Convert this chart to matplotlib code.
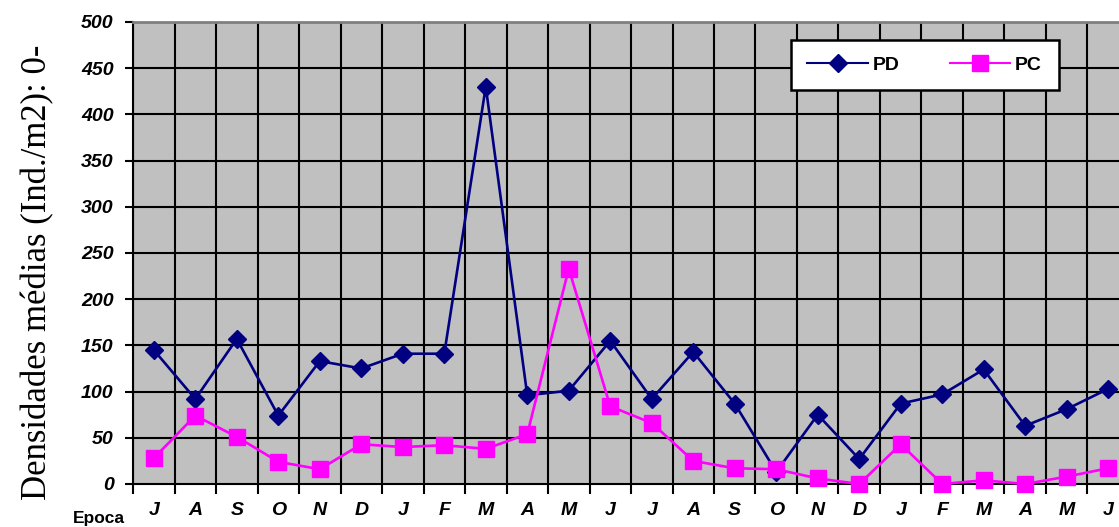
import numpy as np
import matplotlib.pyplot as plt

# monthly sampling periods (Jul -> Jun, two cycles)
meses = ['J', 'A', 'S', 'O', 'N', 'D', 'J', 'F', 'M', 'A', 'M', 'J',
         'J', 'A', 'S', 'O', 'N', 'D', 'J', 'F', 'M', 'A', 'M', 'J']

pd_vals = [145, 92, 157, 74, 133, 125, 141, 141, 430, 96, 101, 155,
           92, 143, 87, 13, 75, 27, 87, 97, 124, 63, 81, 103]
pc_vals = [28, 74, 51, 24, 16, 43, 40, 42, 38, 54, 233, 84,
           66, 25, 17, 16, 6, 0, 43, 0, 4, 0, 8, 17]

yticks = list(range(0, 501, 50))

fig = plt.figure(figsize=(11.19, 5.27), dpi=100)
ax = fig.add_axes([0.1189, 0.0816, 0.890, 0.8767])
ax.set_facecolor('#C0C0C0')

x = np.arange(len(meses))

# grid: vertical lines at category boundaries, horizontal at each tick
for b in np.arange(-0.5, len(meses), 1.0):
    ax.axvline(b, color='black', lw=1.5, zorder=1)
for yv in yticks[1:]:
    ax.axhline(yv, color='black', lw=1.5, zorder=1)

ax.plot(x, pd_vals, color='#000080', lw=1.9, marker='D', markersize=9.5,
        label='PD', zorder=3, clip_on=False)
ax.plot(x, pc_vals, color='#FF00FF', lw=1.9, marker='s', markersize=11.5,
        label='PC', zorder=4, clip_on=False)

ax.set_xlim(-0.5, len(meses) - 0.5)
ax.set_ylim(0, 500)

ax.set_yticks(yticks)
ax.set_yticklabels([str(v) for v in yticks], fontsize=14, fontweight='bold',
                   fontstyle='italic', family='Liberation Sans')
ax.tick_params(axis='y', length=6, width=1.5, pad=8)

# boundary ticks on x, labels centred on each month
ax.set_xticks(np.arange(-0.5, len(meses), 1.0))
ax.set_xticklabels([])
ax.tick_params(axis='x', which='major', length=7, width=1.5)
ax.set_xticks(x, minor=True)
ax.set_xticklabels(meses, minor=True, fontsize=14, fontweight='bold',
                   fontstyle='italic', family='Liberation Sans')
ax.tick_params(axis='x', which='minor', length=0, pad=13)

for s in ['left', 'bottom']:
    ax.spines[s].set_color('black')
    ax.spines[s].set_linewidth(1.5)
ax.spines['top'].set_color('#808080')
ax.spines['top'].set_linewidth(2)
ax.spines['right'].set_visible(False)

fig.text(0.034, 0.484, 'Densidades médias (Ind./m2): 0-', rotation=90,
         ha='center', va='center', fontsize=25, family='Liberation Serif')
fig.text(0.088, 0.002, 'Epoca', ha='center', va='bottom', fontsize=12.5,
         fontweight='bold', family='Liberation Sans')

leg = ax.legend(loc='upper left', bbox_to_anchor=(0.6606, 0.962), ncol=2,
                borderaxespad=0, frameon=True, fancybox=False, framealpha=1,
                edgecolor='black', facecolor='white', handlelength=3.1,
                handletextpad=0.25, columnspacing=2.6, borderpad=0.85,
                markerscale=1.0,
                prop={'family': 'Liberation Sans', 'weight': 'bold', 'size': 14})
leg.get_frame().set_linewidth(1.8)
for h in leg.get_lines():
    h.set_linewidth(1.5)
leg.set_zorder(5)

fig.savefig('out.png', dpi=100)
